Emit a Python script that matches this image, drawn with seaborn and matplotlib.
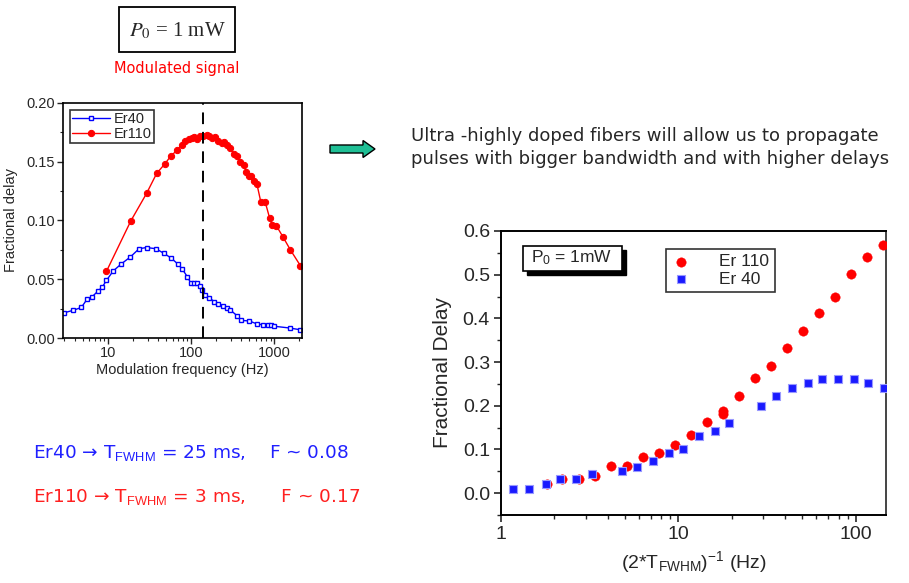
import numpy as np
import pandas as pd
import matplotlib
matplotlib.use("Agg")
import matplotlib.pyplot as plt
import matplotlib.ticker as mticker
from matplotlib.patches import Rectangle, FancyArrow
import seaborn as sns

# ---------------- data ----------------
# Left chart: fractional delay vs modulation frequency
er40_freq = [3.0, 3.82, 4.82, 5.64, 6.47, 7.64, 8.54, 9.64, 11.6, 14.5, 18.7, 23.8, 29.2,
             37.8, 47.3, 57.9, 69.2, 78, 90.4, 99, 108.6, 119, 129.5, 136.8, 147.5, 165,
             191, 213, 241, 272, 295, 356, 400, 500, 618, 722, 829, 920, 1000, 1528, 2055]
er40_delay = [0.0215, 0.0235, 0.026, 0.033, 0.035, 0.040, 0.043, 0.049, 0.057, 0.063, 0.069,
              0.076, 0.077, 0.076, 0.072, 0.068, 0.063, 0.059, 0.052, 0.047, 0.047, 0.047,
              0.044, 0.041, 0.037, 0.034, 0.031, 0.029, 0.0275, 0.0255, 0.024, 0.019, 0.015,
              0.0145, 0.012, 0.0113, 0.0113, 0.0113, 0.010, 0.0085, 0.007]
er110_freq = [9.64, 18.9, 29.2, 38.6, 48.2, 57.4, 68.4, 77.3, 85.4, 94.6, 103.7, 109.6, 119,
              128, 141, 154.6, 165, 177.5, 194.5, 213, 234, 250, 274, 295, 324, 356, 389,
              427, 460, 491, 524, 574, 618, 690, 779, 879, 938, 1057, 1271, 1560, 2055]
er110_delay = [0.0567, 0.0996, 0.123, 0.140, 0.148, 0.155, 0.160, 0.1645, 0.168, 0.169,
               0.170, 0.171, 0.169, 0.1716, 0.172, 0.173, 0.172, 0.170, 0.171, 0.168, 0.166,
               0.167, 0.164, 0.1614, 0.157, 0.1546, 0.1495, 0.147, 0.1416, 0.138, 0.138,
               0.134, 0.131, 0.1155, 0.1155, 0.102, 0.0965, 0.0956, 0.086, 0.075, 0.0616]
marker_freq = 140  # dashed vertical line

# Right chart: fractional delay vs (2*T_FWHM)^-1
r40_bw = [1.17, 1.44, 1.79, 2.15, 2.65, 3.24, 4.83, 5.81, 7.15, 8.81, 10.55, 13.05, 16.07,
          19.3, 29.4, 35.3, 43.6, 53.9, 64.9, 79.5, 98.3, 117.9, 143.8]
r40_fd = [0.010, 0.010, 0.021, 0.033, 0.033, 0.044, 0.051, 0.061, 0.074, 0.091, 0.102,
          0.131, 0.142, 0.161, 0.200, 0.222, 0.240, 0.251, 0.262, 0.262, 0.262, 0.251, 0.240]
r110_bw = [1.81, 2.22, 2.75, 3.39, 4.17, 5.11, 6.28, 7.77, 9.56, 11.75, 14.47, 17.8, 17.8,
           21.9, 27.0, 33.2, 40.8, 50.3, 61.9, 76.2, 93.7, 115.4, 142]
r110_fd = [0.021, 0.033, 0.033, 0.040, 0.062, 0.062, 0.082, 0.093, 0.110, 0.133, 0.162,
           0.188, 0.182, 0.222, 0.263, 0.292, 0.332, 0.371, 0.412, 0.450, 0.501, 0.541, 0.569]

# ---------------- style ----------------
sns.set_style("ticks")
plt.rcParams["font.family"] = ["Liberation Sans", "DejaVu Sans"]
plt.rcParams["mathtext.fontset"] = "custom"
plt.rcParams["mathtext.rm"] = "Liberation Sans"
plt.rcParams["mathtext.it"] = "Liberation Sans:italic"
plt.rcParams["xtick.direction"] = "out"
plt.rcParams["ytick.direction"] = "out"

BLUE = "#0000ff"
RED = "#ff0000"

W, H = 909, 583
fig = plt.figure(figsize=(W / 100, H / 100), dpi=100)
fig.patch.set_facecolor("white")


def fx(px):
    return px / W


def fy(py):
    return 1 - py / H


# ---------------- left chart ----------------
ax1 = fig.add_axes([fx(63), fy(338), fx(302) - fx(63), fy(103) - fy(338)])
df40 = pd.DataFrame({"f": er40_freq, "d": er40_delay})
df110 = pd.DataFrame({"f": er110_freq, "d": er110_delay})
sns.lineplot(data=df40, x="f", y="d", ax=ax1, color=BLUE, lw=1.0, marker="s",
             markersize=3.5, markerfacecolor="white", markeredgecolor=BLUE,
             markeredgewidth=1.0, estimator=None, label="Er40")
sns.lineplot(data=df110, x="f", y="d", ax=ax1, color=RED, lw=1.0, marker="o",
             markersize=4.5, markerfacecolor=RED, markeredgecolor=RED,
             estimator=None, label="Er110")
ax1.axvline(marker_freq, color="black", ls=(0, (6, 4)), lw=1.4)
ax1.set_xscale("log")
ax1.set_xlim(2.9, 2150)
ax1.set_ylim(0, 0.20)
ax1.yaxis.set_major_locator(mticker.MultipleLocator(0.05))
ax1.yaxis.set_minor_locator(mticker.MultipleLocator(0.025))
ax1.yaxis.set_major_formatter(mticker.FormatStrFormatter("%.2f"))
ax1.xaxis.set_major_locator(mticker.LogLocator(base=10, numticks=10))
ax1.xaxis.set_minor_locator(mticker.LogLocator(base=10, subs=np.arange(2, 10), numticks=20))
ax1.xaxis.set_major_formatter(mticker.FuncFormatter(lambda v, p: f"{v:g}"))
ax1.xaxis.set_minor_formatter(mticker.NullFormatter())
ax1.tick_params(which="major", length=4, width=1, labelsize=10.5, pad=2)
ax1.tick_params(which="minor", length=2.5, width=0.8)
for s in ax1.spines.values():
    s.set_linewidth(1.2)
    s.set_color("black")
ax1.set_xlabel("Modulation frequency (Hz)", fontsize=10.5, labelpad=2)
ax1.set_ylabel("Fractional delay", fontsize=10.5, labelpad=6)
leg1 = ax1.legend(loc="upper left", frameon=True, fancybox=False, edgecolor="black",
                  fontsize=10.5, handlelength=2.6, borderaxespad=0.5, borderpad=0.15,
                  labelspacing=0.05, handletextpad=0.2)
leg1.get_frame().set_linewidth(1.2)

# ---------------- right chart ----------------
ax2 = fig.add_axes([fx(501), fy(515), fx(886) - fx(501), fy(231) - fy(515)])
dfr110 = pd.DataFrame({"x": r110_bw, "y": r110_fd})
dfr40 = pd.DataFrame({"x": r40_bw, "y": r40_fd})
sns.scatterplot(data=dfr110, x="x", y="y", ax=ax2, color=RED, marker="o", s=46,
                edgecolor=RED, linewidth=0.3, label="Er 110", zorder=3)
sns.scatterplot(data=dfr40, x="x", y="y", ax=ax2, color="#1a1aff", marker="s", s=34,
                edgecolor="#9a9aff", linewidth=0.8, label="Er 40", zorder=3)
ax2.set_xscale("log")
ax2.set_xlim(1, 148)
ax2.set_ylim(-0.05, 0.6)
ax2.yaxis.set_major_locator(mticker.MultipleLocator(0.1))
ax2.yaxis.set_minor_locator(mticker.MultipleLocator(0.05))
ax2.yaxis.set_major_formatter(mticker.FormatStrFormatter("%.1f"))
ax2.xaxis.set_major_locator(mticker.LogLocator(base=10, numticks=10))
ax2.xaxis.set_minor_locator(mticker.LogLocator(base=10, subs=np.arange(2, 10), numticks=20))
ax2.xaxis.set_major_formatter(mticker.FuncFormatter(lambda v, p: f"{v:g}"))
ax2.xaxis.set_minor_formatter(mticker.NullFormatter())
ax2.tick_params(which="major", length=5, width=1.2, labelsize=14, pad=3)
ax2.tick_params(which="minor", length=3, width=1.0)
for s in ax2.spines.values():
    s.set_linewidth(1.4)
    s.set_color("black")
ax2.spines["right"].set_color("#444444")
ax2.set_xlabel("(2*T$_{\\rm FWHM}$)$^{-1}$ (Hz)", fontsize=14, labelpad=4)
ax2.set_ylabel("Fractional Delay", fontsize=15, labelpad=8)
leg2 = ax2.legend(loc="upper left", bbox_to_anchor=(0.405, 0.968), frameon=True,
                  fancybox=False, edgecolor="black", fontsize=12.5, handlelength=1.2,
                  handletextpad=1.6, borderpad=0.3, labelspacing=0.15, markerscale=1.0)
leg2.get_frame().set_linewidth(1.2)

# P0 box inside right chart (with shadow)
fig.add_artist(Rectangle((fx(527), fy(275)), fx(626) - fx(527), fy(250) - fy(275),
                         transform=fig.transFigure, facecolor="black", edgecolor="black",
                         zorder=10))
fig.add_artist(Rectangle((fx(523), fy(271)), fx(622) - fx(523), fy(246) - fy(271),
                         transform=fig.transFigure, facecolor="white", edgecolor="black",
                         linewidth=1.2, zorder=11))
fig.text(fx(572), fy(258), "P$_0$ = 1mW", fontsize=12.5, ha="center", va="center",
         zorder=12)

# ---------------- annotations ----------------
# top box
fig.add_artist(Rectangle((fx(119), fy(52)), fx(235) - fx(119), fy(7) - fy(52),
                         transform=fig.transFigure, facecolor="white", edgecolor="black",
                         linewidth=1.3))
fig.text(fx(177), fy(31), r"$P_{\mathit{0}}$ = 1 mW", fontsize=15, ha="center",
         va="center", family="Liberation Serif", math_fontfamily="stix")
fig.text(fx(177), fy(68), "Modulated signal", fontsize=10.5, color=RED, ha="center",
         va="center", family="DejaVu Sans")

# arrow
fig.add_artist(FancyArrow(fx(330), fy(149), fx(375) - fx(330), 0,
                          width=8 / H, head_width=17 / H, head_length=12 / W,
                          length_includes_head=True, transform=fig.transFigure,
                          facecolor="#1fbf95", edgecolor="black", linewidth=1.0))

fig.text(fx(411), fy(136), "Ultra -highly doped fibers will allow us to propagate",
         fontsize=13, ha="left", va="center", family="DejaVu Sans")
fig.text(fx(411), fy(159), "pulses with bigger bandwidth and with higher delays",
         fontsize=13, ha="left", va="center", family="DejaVu Sans")

fig.text(fx(33), fy(453), "Er40 → T$_{\\rm FWHM}$ = 25 ms,    F ~ 0.08",
         fontsize=13.3, color="#2020ff", ha="left", va="center", family="DejaVu Sans")
fig.text(fx(33), fy(497), "Er110 → T$_{\\rm FWHM}$ = 3 ms,      F ~ 0.17",
         fontsize=13.3, color="#ff2020", ha="left", va="center", family="DejaVu Sans")

fig.savefig("out.png", dpi=100, facecolor="white")
